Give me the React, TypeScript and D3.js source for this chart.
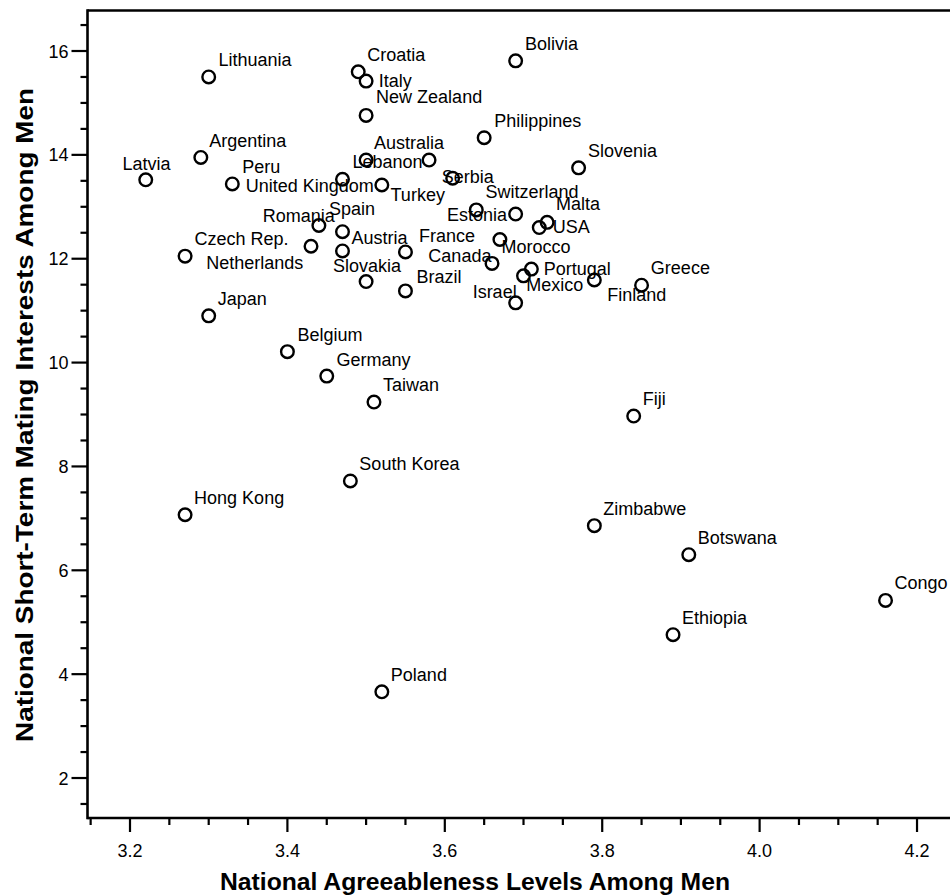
import React from "react";
import * as d3 from "d3";

// ---- Data ----
const countries = [
  "Lithuania", "Croatia", "Italy", "Bolivia", "New Zealand", "Philippines",
  "Argentina", "Latvia", "Peru", "Australia", "Lebanon", "Serbia",
  "United Kingdom", "Turkey", "Slovenia", "Spain", "Romania", "Netherlands",
  "Austria", "France", "Slovakia", "Brazil", "Switzerland", "Estonia",
  "Morocco", "Canada", "Portugal", "Mexico", "Israel", "USA", "Malta",
  "Finland", "Greece", "Czech Rep.", "Japan", "Belgium", "Germany", "Taiwan",
  "Fiji", "Zimbabwe", "Botswana", "Congo", "Ethiopia", "South Korea",
  "Hong Kong", "Poland",
];

const agreeableness = [
  3.30, 3.49, 3.50, 3.69, 3.50, 3.65,
  3.29, 3.22, 3.33, 3.50, 3.58, 3.61,
  3.47, 3.52, 3.77, 3.44, 3.47, 3.43,
  3.47, 3.55, 3.50, 3.55, 3.64, 3.69,
  3.67, 3.66, 3.71, 3.70, 3.69, 3.72, 3.73,
  3.79, 3.85, 3.27, 3.30, 3.40, 3.45, 3.51,
  3.84, 3.79, 3.91, 4.16, 3.89, 3.48,
  3.27, 3.52,
];

const shortTermMating = [
  15.50, 15.60, 15.42, 15.81, 14.76, 14.33,
  13.95, 13.52, 13.44, 13.90, 13.90, 13.55,
  13.53, 13.42, 13.75, 12.64, 12.52, 12.24,
  12.15, 12.13, 11.56, 11.38, 12.94, 12.86,
  12.37, 11.91, 11.80, 11.67, 11.15, 12.60, 12.70,
  11.59, 11.49, 12.05, 10.90, 10.21, 9.74, 9.24,
  8.97, 6.86, 6.30, 5.42, 4.76, 7.72,
  7.07, 3.66,
];

const xTicks = [3.2, 3.4, 3.6, 3.8, 4.0, 4.2];
const yTicks = [2, 4, 6, 8, 10, 12, 14, 16];

const xTitle = "National Agreeableness Levels Among Men";
const yTitle = "National Short-Term Mating Interests Among Men";

// label placement relative to each point (anchor, dx, dy in px)
type LabelPos = [string, number, number];
const UR: LabelPos = ["start", 9, -11];
const labelPlacement: Record<string, LabelPos> = {
  Lithuania: ["start", 9.7, -11],
  Croatia: ["start", 9, -11],
  Italy: ["start", 12.6, 5.7],
  Bolivia: ["start", 9.3, -11],
  "New Zealand": ["start", 10, -12],
  Philippines: ["start", 10, -10.4],
  Argentina: ["start", 8.3, -10.6],
  Latvia: ["middle", 0.8, -10],
  Peru: ["start", 10, -11.3],
  Australia: ["start", 8, -10.7],
  Lebanon: ["end", -6.6, 8.3],
  Serbia: ["start", -11, 5],
  "United Kingdom": ["end", 31.3, 12.4],
  Turkey: ["start", 8.7, 15.7],
  Slovenia: ["start", 9.3, -11],
  Spain: ["start", 10, -10.7],
  Romania: ["end", -7.7, -9.4],
  Netherlands: ["end", -7.7, 22.3],
  Austria: ["start", 9, -7.4],
  France: ["start", 13.6, -10],
  Slovakia: ["middle", 0.8, -10],
  Brazil: ["start", 11, -7.7],
  Switzerland: ["start", 9.3, -11.7],
  Estonia: ["end", -8.7, 6.7],
  Morocco: ["start", 1.7, 13.4],
  Canada: ["end", -0.6, -1.6],
  Portugal: ["start", 12.3, 5.7],
  Mexico: ["start", 2.7, 14.7],
  Israel: ["end", 1, -4.4],
  USA: ["start", 13.4, 5.4],
  Malta: ["start", 9, -12.3],
  Finland: ["start", 13, 20.7],
  Greece: ["start", 9.3, -11.7],
  "Czech Rep.": ["start", 9.3, -11],
  Japan: ["start", 9, -11],
  Belgium: ["start", 10, -11],
  Germany: ["start", 9.7, -10.3],
};

const W = 950;
const H = 896;
const left = 87.5;
const top = 10.5;
const bottom = 818;
const right = 950;

export default function App() {
  const x = d3.scaleLinear().domain([3.146, 4.2419]).range([left, right]);
  const y = d3.scaleLinear().domain([1.23, 16.78]).range([bottom, top]);

  const xMinor = d3.range(3.15, 4.2419, 0.05).filter(
    (v) => !xTicks.some((t) => Math.abs(t - v) < 1e-6)
  );
  const yMinor = d3.range(1.5, 16.78, 0.5).filter(
    (v) => !yTicks.some((t) => Math.abs(t - v) < 1e-6)
  );

  const font = "'Liberation Sans', Arial, sans-serif";
  const axisW = 2.6;

  return (
    <svg
      width={W}
      height={H}
      style={{ position: "absolute", left: 0, top: 0, background: "#fff" }}
      fontFamily={font}
    >
      <rect x={0} y={0} width={W} height={H} fill="#fff" />
      {/* frame */}
      <line x1={left} x2={right} y1={top} y2={top} stroke="#000" strokeWidth={axisW} />
      <line x1={left} x2={right} y1={bottom} y2={bottom} stroke="#000" strokeWidth={axisW} />
      <line x1={left} x2={left} y1={top - axisW / 2} y2={bottom + axisW / 2} stroke="#000" strokeWidth={axisW} />

      {/* x ticks */}
      {xMinor.map((v, i) => (
        <line key={"xm" + i} x1={x(v)} x2={x(v)} y1={bottom} y2={bottom + 7} stroke="#000" strokeWidth={2.2} />
      ))}
      {xTicks.map((v) => (
        <g key={"xt" + v}>
          <line x1={x(v)} x2={x(v)} y1={bottom} y2={bottom + 14} stroke="#000" strokeWidth={2.2} />
          <text x={x(v)} y={bottom + 39} textAnchor="middle" fontSize={18} fill="#000">
            {v.toFixed(1)}
          </text>
        </g>
      ))}

      {/* y ticks */}
      {yMinor.map((v, i) => (
        <line key={"ym" + i} x1={left - 7} x2={left} y1={y(v)} y2={y(v)} stroke="#000" strokeWidth={2.2} />
      ))}
      {yTicks.map((v) => (
        <g key={"yt" + v}>
          <line x1={left - 16} x2={left} y1={y(v)} y2={y(v)} stroke="#000" strokeWidth={2.2} />
          <text x={left - 19} y={y(v) + 6.5} textAnchor="end" fontSize={18} fill="#000">
            {v}
          </text>
        </g>
      ))}

      {/* axis titles */}
      <text
        x={475}
        y={890}
        textAnchor="middle"
        fontSize={24}
        fontWeight="bold"
        textLength={510}
        lengthAdjust="spacingAndGlyphs"
        fill="#000"
      >
        {xTitle}
      </text>
      <text
        transform={`translate(33,415) rotate(-90)`}
        textAnchor="middle"
        fontSize={24}
        fontWeight="bold"
        textLength={654}
        lengthAdjust="spacingAndGlyphs"
        fill="#000"
      >
        {yTitle}
      </text>

      {/* points */}
      {countries.map((c, i) => {
        const cx = x(agreeableness[i]);
        const cy = y(shortTermMating[i]);
        const [anchor, dx, dy] = labelPlacement[c] || UR;
        return (
          <g key={c}>
            <circle cx={cx} cy={cy} r={6.3} fill="none" stroke="#000" strokeWidth={2.4} />
            <text x={cx + dx} y={cy + dy} textAnchor={anchor as any} fontSize={18} fill="#000">
              {c}
            </text>
          </g>
        );
      })}
    </svg>
  );
}
